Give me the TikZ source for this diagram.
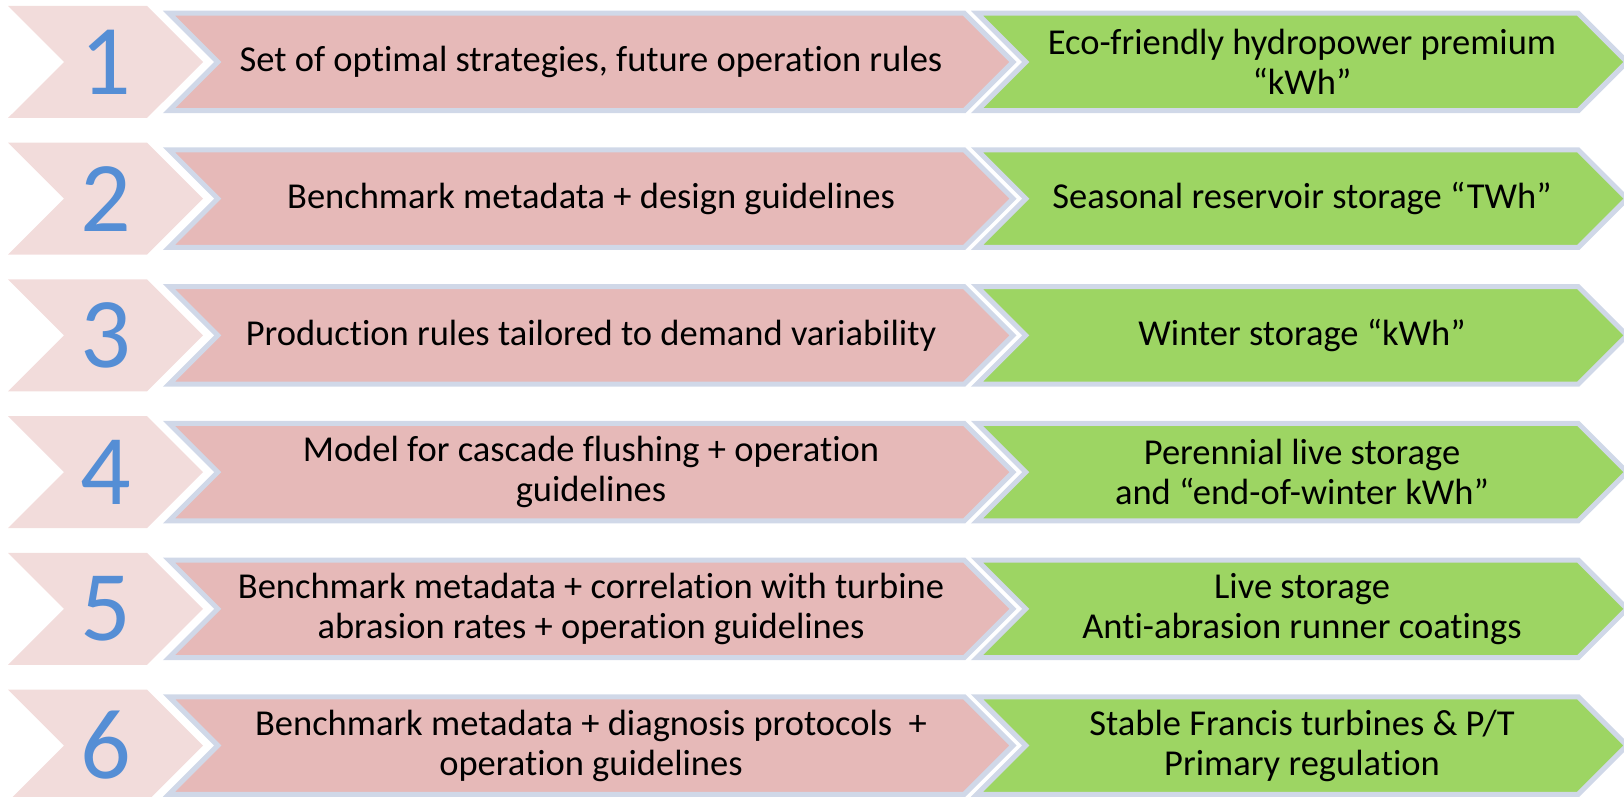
\documentclass[tikz,border=0pt]{standalone}
\usepackage{fontspec}
\setmainfont{Carlito}[Ligatures={TeX,NoCommon}]
\usepackage{tikz}
\usetikzlibrary{shapes.symbols}

\definecolor{numpink}{HTML}{F2DCDB}
\definecolor{rulepink}{HTML}{E6B9B8}
\definecolor{gaingreen}{HTML}{9DD563}
\definecolor{rim}{HTML}{D0D8E8}
\definecolor{numblue}{HTML}{558ED5}

\tikzset{
  arrowbox/.style={shape=signal, signal from=west, signal to=east, signal pointer angle=90,
    inner sep=0pt, outer sep=0pt, align=center, font=\fontsize{36.5}{40}\selectfont},
  numbox/.style={arrowbox, fill=numpink, minimum width=195pt, minimum height=112pt,
    text=numblue, font=\fontsize{100}{100}\selectfont},
  rulebox/.style={arrowbox, fill=rulepink, draw=rim, line width=5pt,
    minimum width=844pt, minimum height=97.5pt},
  gainbox/.style={arrowbox, fill=gaingreen, draw=rim, line width=5pt,
    minimum width=650pt, minimum height=97.5pt}
}

\begin{document}
\begin{tikzpicture}[x=1pt, y=-1pt]
  \useasboundingbox (0,0) rectangle (1624,797);

  % step numbers
  \node[numbox] (n1) at (105.5,62)    {1};
  \node[numbox] (n2) at (105.5,198.7) {2};
  \node[numbox] (n3) at (105.5,335.4) {3};
  \node[numbox] (n4) at (105.5,472.1) {4};
  \node[numbox] (n5) at (105.5,608.8) {5};
  \node[numbox] (n6) at (105.5,745.5) {6};

  % rules and guidelines
  \node[rulebox] (r1) at (591,62)    {Set of optimal strategies, future operation rules};
  \node[rulebox] (r2) at (591,198.7) {Benchmark metadata + design guidelines};
  \node[rulebox] (r3) at (591,335.4) {Production rules tailored to demand variability};
  \node[rulebox] (r4) at (591,472.1) {Model for cascade flushing + operation\\guidelines};
  \node[rulebox] (r5) at (591,608.8) {Benchmark metadata + correlation with turbine\\abrasion rates + operation guidelines};
  \node[rulebox] (r6) at (591,745.5) {Benchmark metadata + diagnosis protocols~ +\\operation guidelines};

  % what is gained
  \node[gainbox] (g1) at (1302,62)    {Eco-friendly hydropower premium\\“kWh”};
  \node[gainbox] (g2) at (1302,198.7) {Seasonal reservoir storage “TWh”};
  \node[gainbox] (g3) at (1302,335.4) {Winter storage “kWh”};
  \node[gainbox] (g4) at (1302,472.1) {Perennial live storage\\and “end-of-winter kWh”};
  \node[gainbox] (g5) at (1302,608.8) {Live storage\\Anti-abrasion runner coatings};
  \node[gainbox] (g6) at (1302,745.5) {Stable Francis turbines \& P/T\\Primary regulation};
\end{tikzpicture}
\end{document}
